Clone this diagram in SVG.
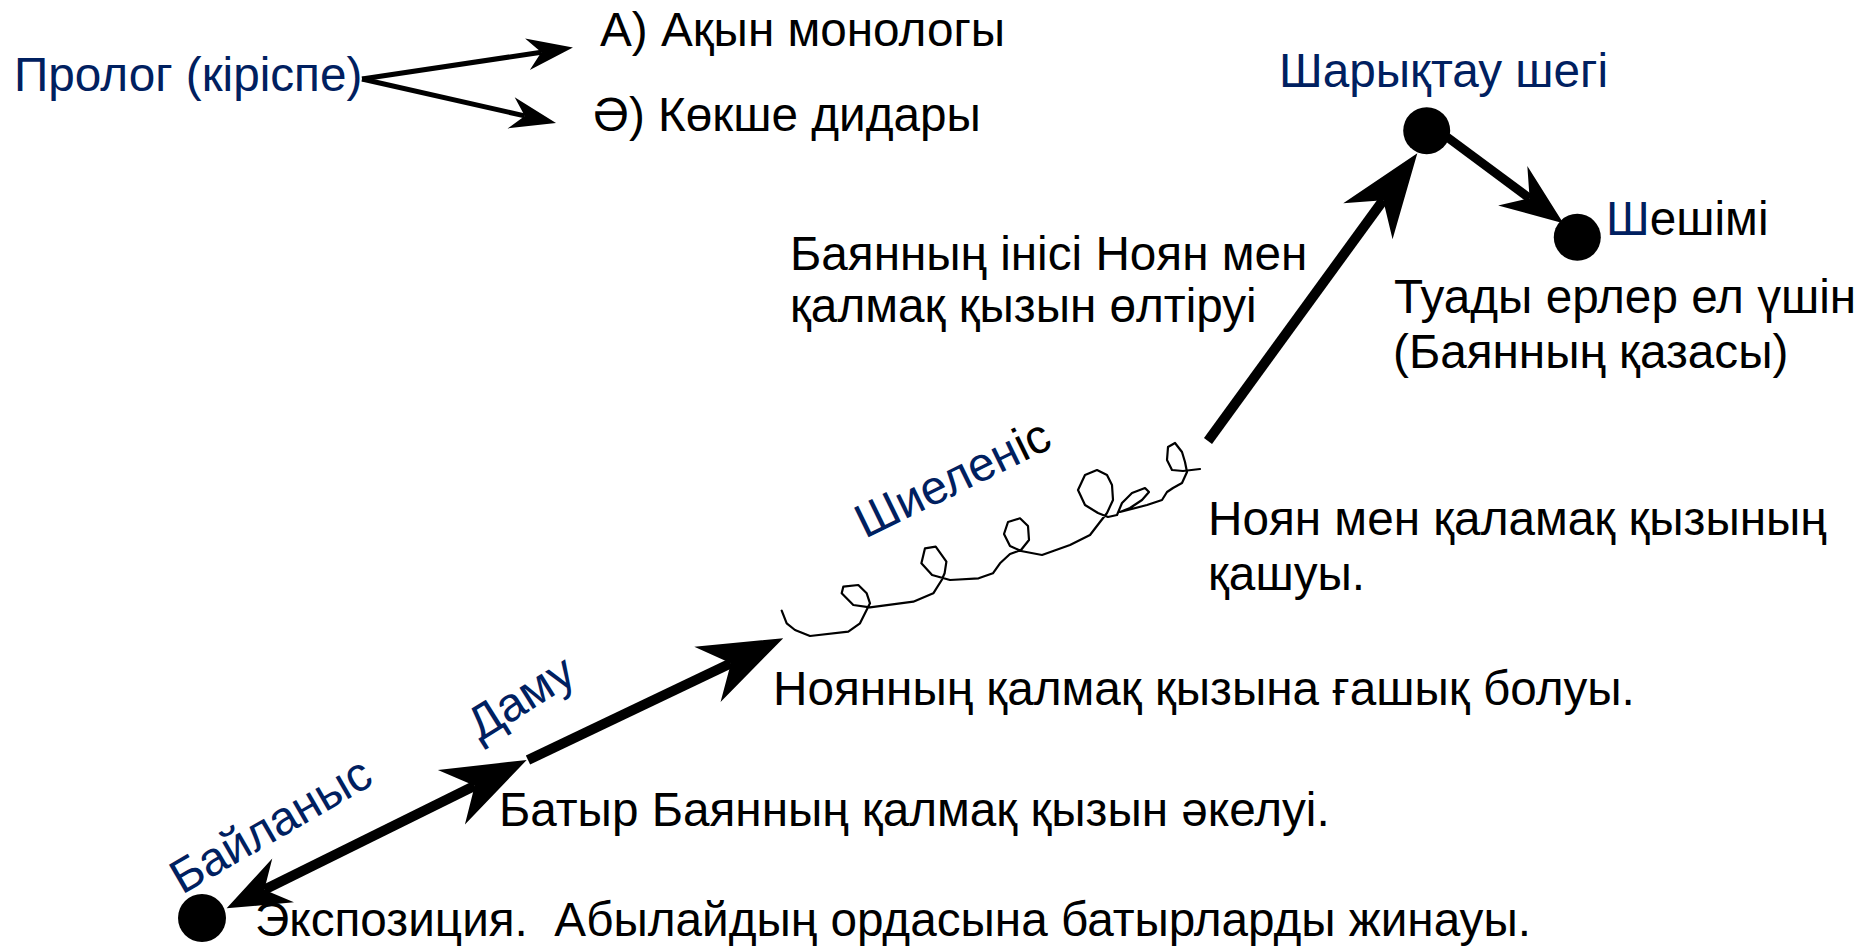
<svg xmlns="http://www.w3.org/2000/svg" width="1862" height="947" viewBox="0 0 1862 947">
<style>
text{font-family:"Liberation Sans",Arial,sans-serif;font-size:47.7px;fill:#000}
.blue{fill:#002060}
.conn{stroke:#000;fill:none;stroke-linecap:butt}
.thick{stroke-width:10}
.mid{stroke-width:9}
.thin{stroke-width:5}
.squig{stroke:#000;fill:none;stroke-width:2.2;stroke-linejoin:round;stroke-linecap:round}
.dot{fill:#000}
</style>
<defs>
<marker id="headL" markerUnits="userSpaceOnUse" viewBox="-30 -35 100 70" markerWidth="100" markerHeight="70" refX="0" refY="0" orient="auto" overflow="visible">
<path d="M58,0 L-26,-30.5 L0,0 L-26,30.5 Z" fill="#000"/>
</marker>
<marker id="headM" markerUnits="userSpaceOnUse" viewBox="-30 -30 80 60" markerWidth="80" markerHeight="60" refX="0" refY="0" orient="auto-start-reverse" overflow="visible">
<path d="M42,0 L-21,-24.5 L0,0 L-21,24.5 Z" fill="#000"/>
</marker>
<marker id="headS" markerUnits="userSpaceOnUse" viewBox="-20 -20 60 40" markerWidth="60" markerHeight="40" refX="0" refY="0" orient="auto" overflow="visible">
<path d="M32,0 L-14,-16 L0,0 L-14,16 Z" fill="#000"/>
</marker>
</defs>
<g id="connectors">
<line class="conn thin" x1="362" y1="79" x2="541.3" y2="52.2" marker-end="url(#headS)"/>
<line class="conn thin" x1="362" y1="79" x2="524.8" y2="115.9" marker-end="url(#headS)"/>
<line class="conn thick" x1="264.3" y1="889.7" x2="474.7" y2="785.7" marker-start="url(#headM)" marker-end="url(#headL)"/>
<line class="conn thick" x1="528" y1="760" x2="730.9" y2="663.2" marker-end="url(#headL)"/>
<path class="squig" d="M781.7,610.7 L786.7,623.3 L795,630 L810,636 L848.3,631.7 L860,623.3 L870,603.3 L866.7,593.3 L858.3,585 L843.3,586.7 L841.7,593.3 L853.3,605 L870,607.3 L913.3,601.7 L933.3,593.3 L941.7,580 L944.6,573.3 L946.4,561.7 L935.7,546.7 L925,548.3 L921.4,563.3 L932.1,575 L950,580 L978.6,578.3 L992.9,573.3 L1000,563.3 L1010,554 L1021,550 L1029,540 L1028,526 L1020,518.3 L1008,522 L1004,534 L1010,546 L1021,551 L1042,555 L1070,545 L1090,535 L1100,522 L1107,513 L1113,500 L1112,485 L1107,475 L1097,470 L1085,475 L1078,490 L1085,505 L1098,513 L1108,517 L1117,515 L1122,503 L1132,493 L1145,488 L1149,492 L1142,500 L1130,508 L1120,512 L1147,505 L1162,500 L1167,492 L1173,488 L1182,483 L1187,472 L1185,462 L1182,452 L1175,443 L1168,447 L1167,460 L1172,470 L1183,471 L1200,469"/>
<line class="conn thick" x1="1208" y1="441" x2="1383.2" y2="200.2" marker-end="url(#headL)"/>
<line class="conn mid" x1="1447" y1="137" x2="1529.6" y2="198.3" marker-end="url(#headM)"/>
</g>
<g id="node-prolog"><text class="blue" x="14" y="91">Пролог (кіріспе)</text></g>
<g id="node-a"><text x="600" y="46">А) Ақын монологы</text></g>
<g id="node-ae"><text x="593" y="131">Ә) Көкше дидары</text></g>
<g id="node-exposition">
<circle class="dot" cx="202" cy="918" r="24"/>
<text x="255" y="936" xml:space="preserve">Экспозиция.  Абылайдың ордасына батырларды жинауы.</text>
</g>
<g id="node-bailanys"><text class="blue" transform="translate(182,895) rotate(-30)">Байланыс</text></g>
<g id="node-damu"><text class="blue" transform="translate(480,742) rotate(-32)">Даму</text></g>
<g id="node-batyr"><text x="499" y="826">Батыр Баянның қалмақ қызын әкелуі.</text></g>
<g id="node-noyan-love"><text x="773" y="705">Ноянның қалмақ қызына ғашық болуы.</text></g>
<g id="node-shielenis"><text transform="translate(865,539) rotate(-26)"><tspan class="blue">Шиелен</tspan>іс</text></g>
<g id="node-escape"><text x="1208" y="535">Ноян мен қаламақ қызының</text><text x="1208" y="590">қашуы.</text></g>
<g id="node-kill"><text x="790" y="270">Баянның інісі Ноян мен</text><text x="790" y="322">қалмақ қызын өлтіруі</text></g>
<g id="node-climax">
<text class="blue" x="1279" y="87">Шарықтау шегі</text>
<circle class="dot" cx="1426.7" cy="130.7" r="23.5"/>
</g>
<g id="node-resolution">
<circle class="dot" cx="1577.3" cy="237.3" r="23.5"/>
<text x="1606" y="235"><tspan class="blue">Ш</tspan>ешімі</text>
<text x="1394" y="313">Туады ерлер ел үшін</text>
<text x="1393" y="368">(Баянның қазасы)</text>
</g>
</svg>
